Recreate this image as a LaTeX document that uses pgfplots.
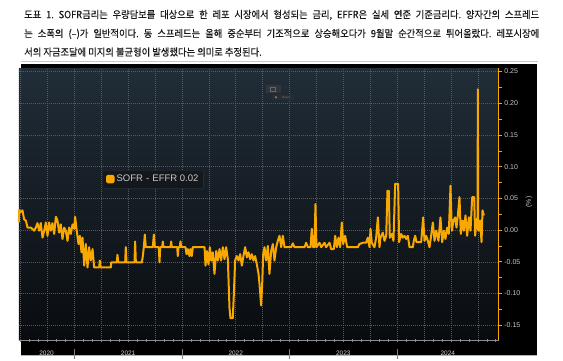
\documentclass[border=0pt]{standalone}
\usepackage{fontspec}
\setmainfont{Liberation Sans}
\newfontfamily\kr{Noto Sans CJK KR}[FakeStretch=0.93,FakeBold=0.4]
\usepackage{pgfplots}
\pgfplotsset{compat=1.18}
\definecolor{sorange}{RGB}{248,168,0}
\definecolor{gridc}{RGB}{78,90,100}
\definecolor{bgtop}{RGB}{33,45,56}
\definecolor{bgbot}{RGB}{9,12,15}
\definecolor{lbl}{RGB}{200,200,200}
\definecolor{titlec}{RGB}{25,25,25}
\pgfplotstableread{
m v
5.81 0.012
5.84 0.032
5.95 0.028
6.22 0.031
6.40 0.017
6.59 0.015
6.78 0.004
7.15 0.004
7.52 -0.001
7.71 0.004
7.89 0.011
8.08 -0.001
8.26 0.011
8.45 -0.012
8.64 -0.001
8.82 0.012
9.01 -0.009
9.19 0.012
9.38 -0.001
9.56 0.011
9.75 -0.006
9.94 0.021
10.12 0.015
10.31 -0.004
10.49 0.009
10.68 -0.014
10.87 0.004
11.05 -0.001
11.24 -0.017
11.42 0.004
11.61 -0.006
11.80 0.009
11.98 0.002
12.09 0.021
12.24 0.002
12.46 -0.022
12.61 -0.009
12.80 -0.035
12.91 -0.012
13.10 -0.056
13.28 -0.022
13.47 -0.059
13.65 -0.027
13.84 -0.048
14.03 -0.030
14.21 -0.059
14.77 -0.059
14.84 -0.048
14.92 -0.059
16.07 -0.059
16.11 -0.051
16.74 -0.051
16.81 -0.039
16.89 -0.051
17.67 -0.051
17.74 -0.027
17.82 -0.051
18.71 -0.051
18.78 -0.018
18.86 -0.051
19.53 -0.051
19.64 -0.041
19.75 -0.027
19.86 -0.007
19.97 -0.027
20.75 -0.027
20.87 -0.007
20.98 -0.027
21.42 -0.027
21.50 -0.051
21.57 -0.027
21.79 -0.027
21.87 -0.018
21.94 -0.027
22.72 -0.027
22.80 -0.018
22.87 -0.027
23.47 -0.027
23.54 -0.041
23.62 -0.027
23.76 -0.027
23.84 -0.018
23.91 -0.027
24.40 -0.027
24.51 -0.038
24.66 -0.030
24.84 -0.041
24.95 -0.030
25.10 -0.041
25.21 -0.027
26.52 -0.027
26.63 -0.056
26.78 -0.033
26.96 -0.054
27.11 -0.027
27.26 -0.048
27.44 -0.035
27.63 -0.069
27.82 -0.033
28.00 -0.048
28.19 -0.030
28.37 -0.048
28.56 -0.027
28.75 -0.046
28.93 -0.027
29.12 -0.046
29.30 -0.122
29.41 -0.139
29.67 -0.139
29.79 -0.101
29.93 -0.048
30.12 -0.041
30.31 -0.048
30.49 -0.038
30.68 -0.056
30.86 -0.041
31.05 -0.027
31.24 -0.043
31.42 -0.035
31.61 -0.046
31.79 -0.038
31.98 -0.048
32.16 -0.041
32.35 -0.054
32.54 -0.069
32.65 -0.085
32.83 -0.119
32.95 -0.085
33.06 -0.038
33.21 -0.027
33.39 -0.048
33.58 -0.025
33.76 -0.069
33.95 -0.033
34.14 -0.022
34.32 -0.048
34.51 -0.027
34.69 -0.017
34.88 -0.009
35.07 -0.027
35.25 -0.009
35.44 -0.027
36.18 -0.027
36.37 -0.021
36.55 -0.027
37.67 -0.027
37.85 -0.020
38.04 -0.027
38.34 -0.027
38.48 0.002
38.63 -0.027
38.78 -0.027
38.89 0.041
39.00 -0.027
39.34 -0.020
39.53 -0.027
39.90 -0.020
40.08 -0.027
40.46 -0.020
40.64 -0.030
40.94 -0.030
41.09 -0.009
41.27 -0.027
41.46 -0.012
41.64 -0.027
41.83 0.012
41.98 -0.022
42.20 -0.009
42.42 -0.027
43.61 -0.027
43.80 -0.022
44.17 -0.020
44.54 -0.020
44.73 -0.012
44.92 -0.027
45.03 0.002
45.17 -0.020
45.47 -0.027
45.66 -0.012
45.85 0.020
46.03 -0.027
46.14 -0.012
46.40 -0.004
46.59 -0.017
46.78 -0.009
46.92 0.062
47.07 0.062
47.18 -0.012
47.41 -0.006
47.59 -0.017
47.78 0.073
48.11 0.073
48.22 -0.019
48.45 -0.006
48.63 -0.012
48.82 -0.009
49.00 -0.014
49.19 -0.009
49.38 -0.027
49.75 -0.027
49.86 -0.017
50.01 -0.009
50.16 -0.019
50.68 -0.019
50.90 0.020
51.05 -0.017
51.24 -0.009
51.42 -0.017
51.61 -0.027
51.79 -0.009
51.98 0.012
52.17 -0.017
52.35 -0.001
52.61 -0.017
52.83 0.020
53.02 -0.019
53.21 -0.001
53.39 -0.014
53.58 0.004
53.76 -0.006
53.95 0.070
54.10 -0.001
54.28 0.015
54.47 0.020
54.62 0.004
54.77 0.023
54.95 0.052
55.10 -0.006
55.29 0.015
55.44 -0.001
55.62 0.023
55.81 -0.009
56.00 0.020
56.18 -0.001
56.37 0.052
56.59 0.052
56.70 -0.009
56.85 0.015
56.97 0.020
57.00 0.222
57.04 0.000
57.11 -0.001
57.26 0.015
57.41 -0.019
57.52 0.031
57.67 0.023
}\spread
\begin{document}
\frenchspacing
\begin{tikzpicture}[x=1pt,y=1pt]
\path[use as bounding box] (0,0) rectangle (563,361);
% title
\node[anchor=west, inner sep=0, text=titlec] at (24,346) {\hbox to 515pt{\kr\fontsize{10}{12}\selectfont\frenchspacing 도표 1. SOFR금리는 우량담보를 대상으로 한 레포 시장에서 형성되는 금리, EFFR은 실세 연준 기준금리다. 양자간의 스프레드}};
\node[anchor=west, inner sep=0, text=titlec] at (24,327) {\hbox to 515pt{\kr\fontsize{10}{12}\selectfont\frenchspacing 는 소폭의 (–)가 일반적이다. 동 스프레드는 올해 중순부터 기조적으로 상승해오다가 9월말 순간적으로 튀어올랐다. 레포시장에}};
\node[anchor=west, inner sep=0, text=titlec] at (24,309) {\kr\fontsize{10}{12}\selectfont\frenchspacing 서의 자금조달에 미지의 불균형이 발생했다는 의미로 추정된다.};
% rule
\draw[black!22, line width=1.3pt] (21,299.5) -- (538,299.5);
% panel
\fill[black] (20.7,5.5) rectangle (537,297);
\draw[black!30, line width=1pt] (20.7,5.5) -- (537,5.5);
\begin{axis}[
  at={(21,33)}, anchor=south west,
  scale only axis, width=480pt, height=272pt,
  xmin=5.81, xmax=59.34, ymin=-0.1735, ymax=0.2555,
  clip=false,
  axis background/.style={top color=bgtop, bottom color=bgbot},
  axis x line*=bottom, axis y line*=right,
  axis line style={-},
  x axis line style={black!45, line width=0.8pt},
  y axis line style={sorange, line width=0.8pt},
  xtick={8.9,18,30,42,53.65},
  xticklabels={2020,2021,2022,2023,2024},
  major x tick style={draw=none},
  minor xtick={6,7,...,59},
  minor x tick style={black!45, line width=0.6pt},
  xtick align=center,
  xticklabel style={font=\fontsize{6.5}{7}\selectfont, text=lbl!85, yshift=-5.5pt},
  ytick={-0.15,-0.10,-0.05,0,0.05,0.10,0.15,0.20,0.25},
  yticklabels={-0.15,-0.10,-0.05,0.00,0.05,0.10,0.15,0.20,0.25},
  minor y tick num=1,
  ytick align=outside,
  y tick style={sorange, line width=0.6pt},
  major tick length=3pt, minor tick length=3pt,
  yticklabel pos=right,
  yticklabel style={font=\fontsize{7}{8}\selectfont, text=lbl, anchor=west, xshift=-1pt},
  ymajorgrids,
  major grid style={gridc, dash pattern=on 1pt off 1pt, line width=0.5pt},
  legend style={at={(0.175,0.625)}, anchor=north west,
    fill={rgb,255:red,20;green,24;blue,28}, draw={rgb,255:red,44;green,50;blue,56},
    text=lbl, font=\fontsize{9.5}{11}\selectfont, inner xsep=3pt, inner ysep=3pt,
    rounded corners=1pt},
  legend image code/.code={\fill[sorange] (0pt,-3pt) rectangle (6.5pt,3.5pt);},
  legend cell align=left,
]
\pgfplotsinvokeforeach{6,9,...,57}{
  \draw[gridc, dash pattern=on 1pt off 1pt, line width=0.5pt] (axis cs:#1,-0.1735) -- (axis cs:#1,0.2555);
}
\addplot[sorange, line width=2pt, line join=round] table[x=m, y=v] {\spread};
\addlegendentry{SOFR\,\,-\,\,EFFR 0.02}
\draw[black!50, line width=0.6pt] (axis cs:12,-0.1735) ++(0pt,-9pt) -- ++(0pt,-10pt);
\draw[black!50, line width=0.6pt] (axis cs:24,-0.1735) ++(0pt,-9pt) -- ++(0pt,-10pt);
\draw[black!50, line width=0.6pt] (axis cs:36,-0.1735) ++(0pt,-9pt) -- ++(0pt,-10pt);
\draw[black!50, line width=0.6pt] (axis cs:48,-0.1735) ++(0pt,-9pt) -- ++(0pt,-10pt);
\end{axis}
% y label
\node[text=lbl, font=\fontsize{7}{8}\selectfont, rotate=90] at (529,159) {(\%)};
% small overlay icons
\fill[rounded corners=0.5pt, fill={rgb,255:red,48;green,54;blue,60}] (266,268) rectangle (281,276);
\draw[black!60, line width=0.4pt] (270,270) rectangle (275,274);
\fill[rounded corners=0.5pt, fill={rgb,255:red,40;green,45;blue,50}] (272,261) rectangle (294,266.5);
\fill[black!55] (276,263.7) circle (1.3pt);
\node[text=black!55, font=\fontsize{3}{3}\selectfont, inner sep=0] at (286,263.7) {Reset};
\end{tikzpicture}
\end{document}
